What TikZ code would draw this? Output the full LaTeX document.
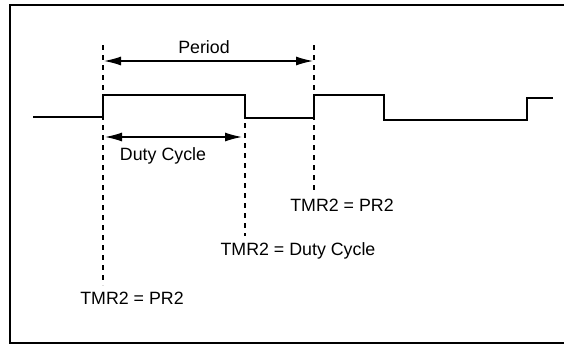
\documentclass[tikz,border=0pt]{standalone}
\usepackage{fontspec}
\setmainfont{Liberation Sans}
\usetikzlibrary{arrows.meta}
\begin{document}
\begin{tikzpicture}[x=1pt,y=-1pt,
  wave/.style={line width=1.8pt,line join=miter},
  guide/.style={line width=1.6pt,dash pattern=on 5pt off 5pt},
  dim/.style={line width=1.3pt,{Latex[length=17pt,width=9pt]}-{Latex[length=17pt,width=9pt]}},
  lbl/.style={font=\fontsize{17.8}{20}\selectfont,inner sep=0pt}]
\useasboundingbox (0,0) rectangle (564,348);
% frame
\draw[line width=1.6pt] (564,5) -- (10,5) -- (10,343) -- (564,343);
% waveform
\draw[wave] (33,117) -- (103,117) -- (103,95) -- (245,95) -- (245,118) -- (314,118)
  -- (314,95) -- (384,95) -- (384,120) -- (527,120) -- (527,98) -- (553,98);
% guides
\coordinate (g1t) at (103,45);
\coordinate (g1b) at (103,285);
\coordinate (g2t) at (245,123);
\coordinate (g2b) at (245,236);
\coordinate (g3t) at (314,45);
\coordinate (g3b) at (314,190);
\draw[guide] (g1t) -- (g1b);
\draw[guide] (g2t) -- (g2b);
\draw[guide] (g3t) -- (g3b);
% dimension arrows
\coordinate (p1) at (104,61);
\coordinate (p2) at (313,61);
\coordinate (d1) at (105,137);
\coordinate (d2) at (242,137);
\draw[dim] (p1) -- (p2);
\draw[dim] (d1) -- (d2);
% labels
\node[lbl] (period) at (204,47) {Period};
\node[lbl] (duty) at (163,156) {Duty Cycle};
\node[lbl] (t1) at (342,205) {TMR2 = PR2};
\node[lbl] (t2) at (298,251) {TMR2 = Duty Cycle};
\node[lbl] (t3) at (132,298) {TMR2 = PR2};
\end{tikzpicture}
\end{document}
